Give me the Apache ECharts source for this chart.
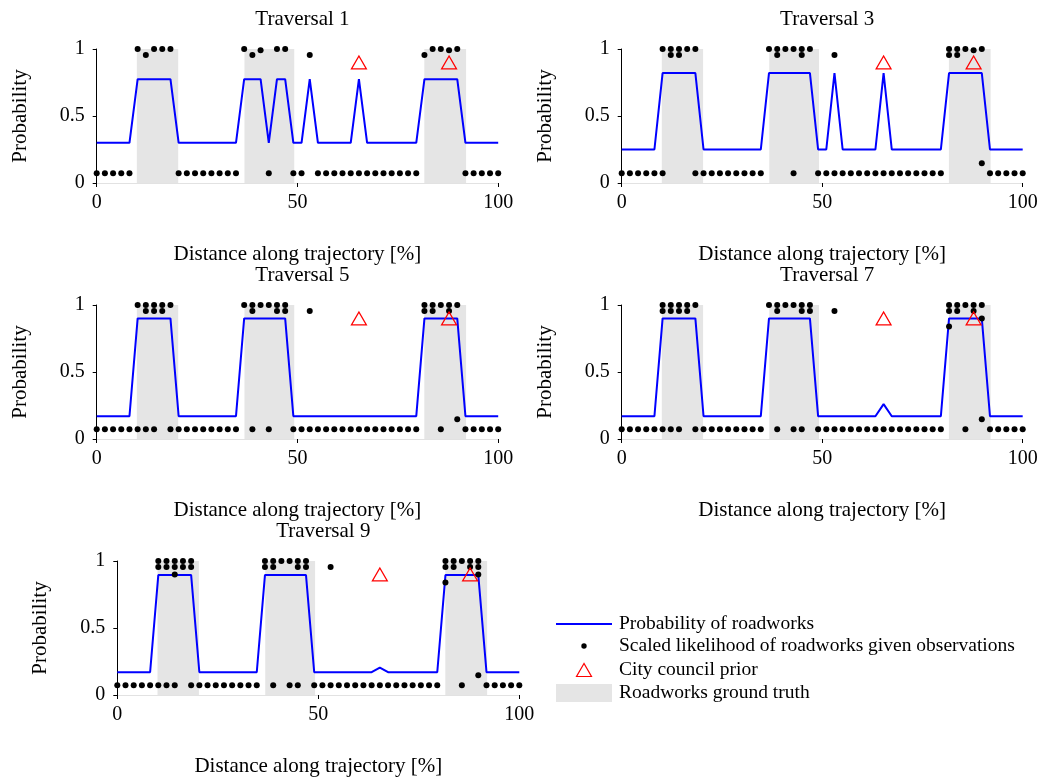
<!DOCTYPE html>
<html>
<head>
<meta charset="utf-8">
<script src="https://cdn.jsdelivr.net/npm/echarts@6/dist/echarts.min.js"></script>
<style>
html, body { margin: 0; padding: 0; background: #fff; }
#main { width: 1042px; height: 781px; }
</style>
</head>
<body>
<div id="main"></div>
<script>
// sample positions along the trajectory [%]
var positions = [0, 2.04, 4.08, 6.12, 8.16, 10.2, 12.24, 14.29, 16.33, 18.37,
    20.41, 22.45, 24.49, 26.53, 28.57, 30.61, 32.65, 34.69, 36.73, 38.78,
    40.82, 42.86, 44.9, 46.94, 48.98, 51.02, 53.06, 55.1, 57.14, 59.18,
    61.22, 63.27, 65.31, 67.35, 69.39, 71.43, 73.47, 75.51, 77.55, 79.59,
    81.63, 83.67, 85.71, 87.76, 89.8, 91.84, 93.88, 95.92, 97.96, 100];

var truthIntervals = [[10, 20.3], [36.8, 49.2], [81.6, 92]];
var priorIdx = [32, 43];
var priorValue = 0.9;
var lowValue = 0.072;

// probability of roadworks per traversal
var prob1 = [.3, .3, .3, .3, .3, .775, .775, .775, .775, .775, .3, .3, .3, .3, .3, .3, .3, .3,
    .775, .775, .775, .3, .775, .775, .3, .3, .775, .3, .3, .3, .3, .3, .775,
    .3, .3, .3, .3, .3, .3, .3, .775, .775, .775, .775, .775, .3, .3, .3, .3, .3];
var prob3 = [.25, .25, .25, .25, .25, .82, .82, .82, .82, .82, .25, .25, .25, .25, .25, .25, .25, .25,
    .82, .82, .82, .82, .82, .82, .25, .25, .82, .25, .25, .25, .25, .25, .82,
    .25, .25, .25, .25, .25, .25, .25, .82, .82, .82, .82, .82, .25, .25, .25, .25, .25];
var prob5 = [.17, .17, .17, .17, .17, .9, .9, .9, .9, .9, .17, .17, .17, .17, .17, .17, .17, .17,
    .9, .9, .9, .9, .9, .9, .17, .17, .17, .17, .17, .17, .17, .17, .17,
    .17, .17, .17, .17, .17, .17, .17, .9, .9, .9, .9, .9, .17, .17, .17, .17, .17];
var prob7 = [.17, .17, .17, .17, .17, .9, .9, .9, .9, .9, .17, .17, .17, .17, .17, .17, .17, .17,
    .9, .9, .9, .9, .9, .9, .17, .17, .17, .17, .17, .17, .17, .17, .26,
    .17, .17, .17, .17, .17, .17, .17, .9, .9, .9, .9, .9, .17, .17, .17, .17, .17];
var prob9 = [.17, .17, .17, .17, .17, .895, .895, .895, .895, .895, .17, .17, .17, .17, .17, .17, .17, .17,
    .895, .895, .895, .895, .895, .895, .17, .17, .17, .17, .17, .17, .17, .17, .205,
    .17, .17, .17, .17, .17, .17, .17, .895, .895, .895, .895, .895, .17, .17, .17, .17, .17];

// scaled likelihood: sample indices at the low value, plus the other observations [index, value]
var low1 = [0, 1, 2, 3, 4, 10, 11, 12, 13, 14, 15, 16, 17, 21, 24, 25, 27, 28, 29, 30, 31, 32,
    33, 34, 35, 36, 37, 38, 39, 45, 46, 47, 48, 49];
var obs1 = [[5, 1], [6, .955], [7, 1], [8, 1], [9, 1], [18, 1], [19, .955], [20, .99], [22, 1], [23, 1],
    [26, .955], [40, .955], [41, 1], [42, 1], [43, .99], [44, 1]];

var low3 = [0, 1, 2, 3, 4, 5, 9, 10, 11, 12, 13, 14, 15, 16, 17, 21, 24, 25, 26, 27, 28, 29, 30, 31,
    32, 33, 34, 35, 36, 37, 38, 39, 45, 46, 47, 48, 49];
var obs3 = [[5, 1], [6, 1], [7, 1], [8, 1], [9, 1], [6, .955], [7, .955],
    [18, 1], [19, 1], [20, 1], [21, 1], [22, 1], [23, 1], [19, .955], [22, .955], [26, .955],
    [40, 1], [41, 1], [42, 1], [43, .99], [44, 1], [40, .955], [41, .955], [44, .147]];

var low5 = [0, 1, 2, 3, 4, 5, 6, 7, 9, 10, 11, 12, 13, 14, 15, 16, 17, 19, 21, 24, 25, 26, 27, 28,
    29, 30, 31, 32, 33, 34, 35, 36, 37, 38, 39, 42, 45, 46, 47, 48, 49];
var obs5 = [[5, 1], [6, 1], [7, 1], [8, 1], [9, 1], [6, .955], [7, .955], [8, .955],
    [18, 1], [19, 1], [20, 1], [21, 1], [22, 1], [23, 1], [19, .955], [22, .955], [23, .955], [26, .955],
    [40, 1], [41, 1], [42, 1], [43, 1], [44, 1], [40, .955], [41, .955], [43, .955], [44, .147]];

var low7 = [0, 1, 2, 3, 4, 5, 6, 7, 9, 10, 11, 12, 13, 14, 15, 16, 17, 19, 21, 22, 24, 25, 26, 27,
    28, 29, 30, 31, 32, 33, 34, 35, 36, 37, 38, 39, 42, 45, 46, 47, 48, 49];
var obs7 = [[5, 1], [6, 1], [7, 1], [8, 1], [9, 1], [5, .955], [6, .955], [7, .955], [8, .955],
    [18, 1], [19, 1], [20, 1], [21, 1], [22, 1], [23, 1], [19, .955], [22, .955], [23, .955], [26, .955],
    [40, 1], [41, 1], [42, 1], [43, 1], [44, 1], [40, .955], [41, .955], [43, .955],
    [40, .84], [44, .9], [44, .147]];

var low9 = [0, 1, 2, 3, 4, 5, 6, 7, 9, 10, 11, 12, 13, 14, 15, 16, 17, 19, 21, 22, 24, 25, 26, 27,
    28, 29, 30, 31, 32, 33, 34, 35, 36, 37, 38, 39, 42, 45, 46, 47, 48, 49];
var obs9 = [[5, 1], [6, 1], [7, 1], [8, 1], [9, 1], [5, .955], [6, .955], [7, .955], [8, .955], [9, .955], [7, .9],
    [18, 1], [19, 1], [20, 1], [21, 1], [22, 1], [23, 1], [18, .955], [19, .955], [22, .955], [23, .955], [26, .955],
    [40, 1], [41, 1], [42, 1], [43, 1], [44, 1], [40, .955], [41, .955], [43, .955], [44, .955],
    [40, .84], [44, .9], [44, .147]];

var panels = [
    { title: 'Traversal 1', prob: prob1, low: low1, obs: obs1 },
    { title: 'Traversal 3', prob: prob3, low: low3, obs: obs3 },
    { title: 'Traversal 5', prob: prob5, low: low5, obs: obs5 },
    { title: 'Traversal 7', prob: prob7, low: low7, obs: obs7 },
    { title: 'Traversal 9', prob: prob9, low: low9, obs: obs9 }
];

// plot boxes in pixels
var boxes = [
    { left: 96.7, top: 49, width: 401.5, height: 134 },
    { left: 621.7, top: 49, width: 401, height: 134 },
    { left: 96.7, top: 305, width: 401.5, height: 134 },
    { left: 621.7, top: 305, width: 401, height: 134 },
    { left: 117.3, top: 561, width: 402, height: 134 }
];

var FONT = "'Liberation Serif', 'Times New Roman', serif";
var myChart = echarts.init(document.getElementById('main'), null, { renderer: 'canvas' });

var titles = [], grids = [], xAxes = [], yAxes = [], series = [];
panels.forEach(function (p, k) {
    var b = boxes[k];
    grids.push({ left: b.left, top: b.top, width: b.width, height: b.height, containLabel: false });
    titles.push({
        text: p.title,
        left: b.left + b.width / 2,
        top: b.top - 45,
        textAlign: 'center',
        textStyle: { fontFamily: FONT, fontSize: 21, fontWeight: 'normal', color: '#000' }
    });
    xAxes.push({
        gridIndex: k, type: 'value', min: 0, max: 100, interval: 50,
        name: 'Distance along trajectory [%]', nameLocation: 'middle', nameGap: 61,
        nameTextStyle: { fontFamily: FONT, fontSize: 21, color: '#000' },
        axisLine: { show: true, lineStyle: { color: '#e2e2e2', width: 1 } },
        axisTick: { show: true, length: 4, lineStyle: { color: '#000' } },
        axisLabel: { fontFamily: FONT, fontSize: 20, color: '#000', margin: 10 },
        splitLine: { show: false }
    });
    yAxes.push({
        gridIndex: k, type: 'value', min: 0, max: 1, interval: 0.5,
        name: 'Probability', nameLocation: 'middle', nameGap: 66, nameRotate: 90,
        nameTextStyle: { fontFamily: FONT, fontSize: 21, color: '#000' },
        axisLine: { show: true, lineStyle: { color: '#000', width: 1 } },
        axisTick: { show: true, length: 4, lineStyle: { color: '#000' } },
        axisLabel: { fontFamily: FONT, fontSize: 20, color: '#000', margin: 12 },
        splitLine: { show: false }
    });
    series.push({
        name: 'Roadworks ground truth', type: 'line', xAxisIndex: k, yAxisIndex: k,
        data: [], silent: true, z: 1,
        markArea: {
            silent: true,
            itemStyle: { color: '#e5e5e5' },
            data: truthIntervals.map(function (iv) { return [{ xAxis: iv[0] }, { xAxis: iv[1] }]; })
        }
    });
    series.push({
        name: 'Probability of roadworks', type: 'line', xAxisIndex: k, yAxisIndex: k,
        data: p.prob.map(function (v, i) { return [positions[i], v]; }),
        symbol: 'none', z: 3,
        lineStyle: { color: '#0000ff', width: 2 }
    });
    var dots = p.low.map(function (i) { return [positions[i], lowValue]; })
        .concat(p.obs.map(function (o) { return [positions[o[0]], o[1]]; }));
    series.push({
        name: 'Scaled likelihood of roadworks given observations', type: 'scatter',
        xAxisIndex: k, yAxisIndex: k, data: dots, symbolSize: 6, z: 4,
        itemStyle: { color: '#000', opacity: 1 }
    });
    series.push({
        name: 'City council prior', type: 'scatter', xAxisIndex: k, yAxisIndex: k,
        data: priorIdx.map(function (i) { return [positions[i], priorValue]; }),
        symbol: 'triangle', symbolSize: [15, 13], z: 5,
        itemStyle: { color: 'rgba(0,0,0,0)', borderColor: '#ff0000', borderWidth: 1.2, opacity: 1 }
    });
});

// legend drawn by hand
var legendTexts = ['Probability of roadworks', 'Scaled likelihood of roadworks given observations',
    'City council prior', 'Roadworks ground truth'];
var legendY = [624, 646, 670, 693];
var graphics = [
    { type: 'line', shape: { x1: 556, y1: 624, x2: 612, y2: 624 }, style: { stroke: '#0000ff', lineWidth: 2 } },
    { type: 'circle', shape: { cx: 584, cy: 646, r: 2.7 }, style: { fill: '#000' } },
    { type: 'polygon', shape: { points: [[584, 663.5], [576.5, 676.5], [591.5, 676.5]] },
      style: { fill: 'none', stroke: '#ff0000', lineWidth: 1.2 } },
    { type: 'rect', shape: { x: 556, y: 684, width: 56, height: 18 }, style: { fill: '#e5e5e5' } }
];
legendTexts.forEach(function (t, i) {
    graphics.push({
        type: 'text', x: 619, y: legendY[i],
        style: { text: t, fontFamily: FONT, fontSize: 19.5, fill: '#000', verticalAlign: 'middle' }
    });
});

var option = {
    animation: false,
    backgroundColor: '#fff',
    title: titles,
    grid: grids,
    xAxis: xAxes,
    yAxis: yAxes,
    series: series,
    graphic: graphics
};
myChart.setOption(option);
</script>
</body>
</html>
